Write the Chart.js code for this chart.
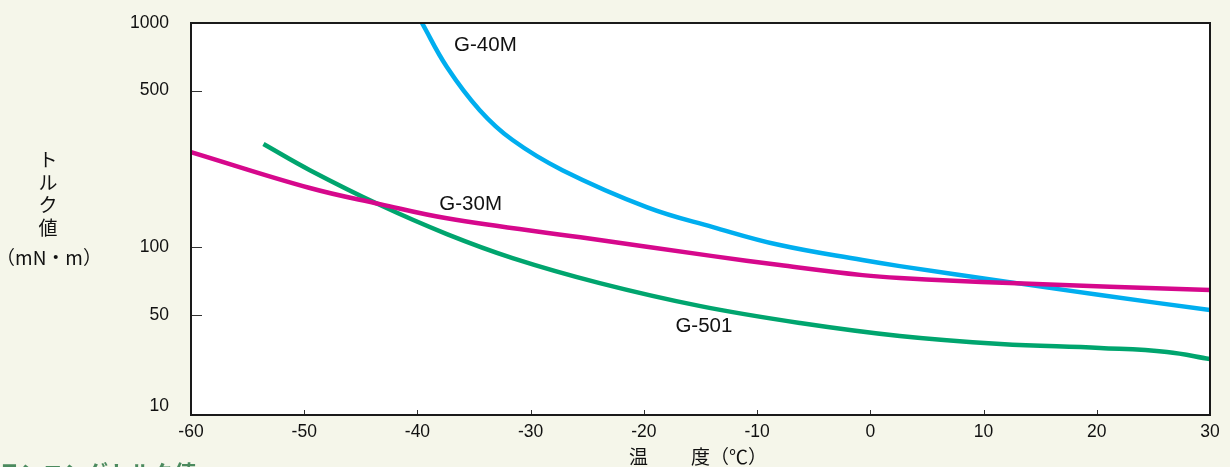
<!DOCTYPE html>
<html lang="ja">
<head>
<meta charset="utf-8">
<title>トルク値</title>
<script src="https://cdn.jsdelivr.net/npm/chart.js@4.4.1/dist/chart.umd.min.js"></script>
<style>
  html, body { margin: 0; padding: 0; background: #f5f6ea; overflow: hidden; }
  #wrap { position: relative; width: 1230px; height: 467px; }
  #next-title {
    position: absolute; left: -2px; top: 455px;
    font: bold 22px "Noto Sans CJK JP", sans-serif; color: #4b8a5e;
    white-space: nowrap;
  }
</style>
</head>
<body>
<div id="wrap">
  <canvas id="torqueChart" width="1230" height="467"></canvas>
  <div id="next-title">ランニングトルク値</div>
</div>
<script>
// temperature (°C) / torque (mN・m) along each grease curve
var g40mTemp = [-39.6, -37.4, -34.5, -31.6, -27.2, -19.7, -13.9, -8, -0.7, 2.6, 12.3, 20.3, 30];
var g40mTorque = [1000, 637, 409, 301, 221, 151, 123.3, 102.5, 87.9, 82.6, 70.1, 61.4, 52.6];

var g30mTemp = [-60, -49.5, -43.3, -37.4, -25.6, -13.9, -8, -0.7, 2.6, 12.3, 30];
var g30mTorque = [266, 184, 156, 135, 111, 91.5, 83.5, 75.3, 73.1, 69.4, 64.6];

var g501Temp = [-53.6, -49.5, -43.3, -37.4, -31.6, -23.9, -15, -6.2, 2.6, 11.5, 20.3, 26.2, 30];
var g501Torque = [289, 221, 154.5, 114.7, 89.7, 69.4, 54.8, 44, 35.7, 31.4, 29.4, 27.6, 24.6];

var xTicks = [-60, -50, -40, -30, -20, -10, 0, 10, 20, 30];
var yTicks = [10, 50, 100, 500, 1000];

// where each curve name sits (temp, torque)
var curveNames = ['G-40M', 'G-30M', 'G-501'];
var nameTemp = [-34.0, -35.3, -14.7];
var nameTorque = [798, 155, 41.9];

function pairs(xs, ys) {
    return xs.map(function(x, i) { return { x: x, y: ys[i] }; });
}

// log axis whose part below 50 is squeezed together
var KNEE = Math.log10(50);
var SQUEEZE = 0.637;
function squash(v) {
    var l = Math.log10(v);
    return l >= KNEE ? l : KNEE - (KNEE - l) * SQUEEZE;
}
function unsquash(s) {
    return s >= KNEE ? Math.pow(10, s) : Math.pow(10, KNEE - (KNEE - s) / SQUEEZE);
}

class TorqueScale extends Chart.LogarithmicScale {
    getPixelForValue(value) {
        if (value === undefined || value === 0) value = this.min;
        if (value === null || isNaN(value)) return NaN;
        var a = squash(this.min), b = squash(this.max);
        return this.getPixelForDecimal((squash(value) - a) / (b - a));
    }
    getValueForPixel(pixel) {
        var a = squash(this.min), b = squash(this.max);
        return unsquash(a + this.getDecimalForPixel(pixel) * (b - a));
    }
}
TorqueScale.id = 'torqueLog';
TorqueScale.defaults = Chart.LogarithmicScale.defaults;
Chart.register(TorqueScale);

var numFont = '"Liberation Sans", Arial, sans-serif';
var jpFont = '"Noto Sans CJK JP", sans-serif';

var framePlugin = {
    id: 'frame',
    beforeDraw: function(chart) {
        var a = chart.chartArea, ctx = chart.ctx;
        ctx.save();
        ctx.fillStyle = '#ffffff';
        ctx.fillRect(a.left, a.top, a.right - a.left, a.bottom - a.top);
        ctx.restore();
    },
    afterDatasetsDraw: function(chart) {
        var a = chart.chartArea, ctx = chart.ctx;
        var xs = chart.scales.x, ys = chart.scales.y;
        ctx.save();

        // inward tick marks
        ctx.strokeStyle = '#333';
        ctx.lineWidth = 1;
        ctx.beginPath();
        xTicks.forEach(function(t) {
            var px = Math.round(xs.getPixelForValue(t)) + 0.5;
            ctx.moveTo(px, a.bottom);
            ctx.lineTo(px, a.bottom - 5);
        });
        yTicks.forEach(function(v) {
            var py = Math.round(ys.getPixelForValue(v)) + 0.5;
            ctx.moveTo(a.left, py);
            ctx.lineTo(a.left + 11, py);
        });
        ctx.stroke();

        // frame
        ctx.strokeStyle = '#1a1a1a';
        ctx.lineWidth = 2;
        ctx.strokeRect(a.left, a.top, a.right - a.left, a.bottom - a.top);

        // y tick labels
        ctx.fillStyle = '#111';
        ctx.font = '17.5px ' + numFont;
        ctx.textAlign = 'right';
        ctx.textBaseline = 'middle';
        yTicks.forEach(function(v) {
            var py = Math.min(ys.getPixelForValue(v), a.bottom - 9);
            ctx.fillText(String(v), a.left - 22, py);
        });

        // curve names
        ctx.font = '20.5px ' + numFont;
        ctx.textAlign = 'center';
        curveNames.forEach(function(name, i) {
            ctx.fillText(name, xs.getPixelForValue(nameTemp[i]), ys.getPixelForValue(nameTorque[i]));
        });

        // axis titles
        ctx.font = '19px ' + jpFont;
        ['ト', 'ル', 'ク', '値'].forEach(function(ch, i) {
            ctx.fillText(ch, 48, 160 + i * 22.5);
        });
        ctx.fillText('（mN・m）', 49, 258);
        ctx.textAlign = 'left';
        ctx.fillText('温', 629, 457);
        ctx.fillText('度（℃）', 691, 457);
        ctx.restore();
    }
};

function curve(label, temps, vals, color) {
    return {
        label: label,
        data: pairs(temps, vals),
        borderColor: color,
        borderWidth: 4.5,
        pointRadius: 0,
        fill: false,
        tension: 0.4
    };
}

new Chart(document.getElementById('torqueChart'), {
    type: 'line',
    data: {
        datasets: [
            curve('G-30M', g30mTemp, g30mTorque, '#d6088c'),
            curve('G-501', g501Temp, g501Torque, '#00a56e'),
            curve('G-40M', g40mTemp, g40mTorque, '#00aeef')
        ]
    },
    options: {
        responsive: false,
        animation: false,
        devicePixelRatio: 1,
        layout: { padding: { top: 23, right: 20, left: 0, bottom: 0 } },
        plugins: { legend: { display: false }, tooltip: { enabled: false } },
        scales: {
            x: {
                type: 'linear',
                min: -60,
                max: 30,
                grid: { display: false, drawTicks: false },
                border: { display: false },
                afterBuildTicks: function(scale) {
                    scale.ticks = xTicks.map(function(v) { return { value: v }; });
                },
                afterFit: function(scale) { scale.height = 52; },
                ticks: {
                    color: '#111',
                    padding: 7,
                    maxRotation: 0,
                    font: { family: numFont, size: 17.5 }
                }
            },
            y: {
                type: 'torqueLog',
                min: 10,
                max: 1000,
                grid: { display: false, drawTicks: false },
                border: { display: false },
                ticks: { display: false },
                afterBuildTicks: function(scale) {
                    scale.ticks = yTicks.map(function(v) { return { value: v }; });
                },
                afterFit: function(scale) { scale.width = 191; }
            }
        }
    },
    plugins: [framePlugin]
});
</script>
</body>
</html>
